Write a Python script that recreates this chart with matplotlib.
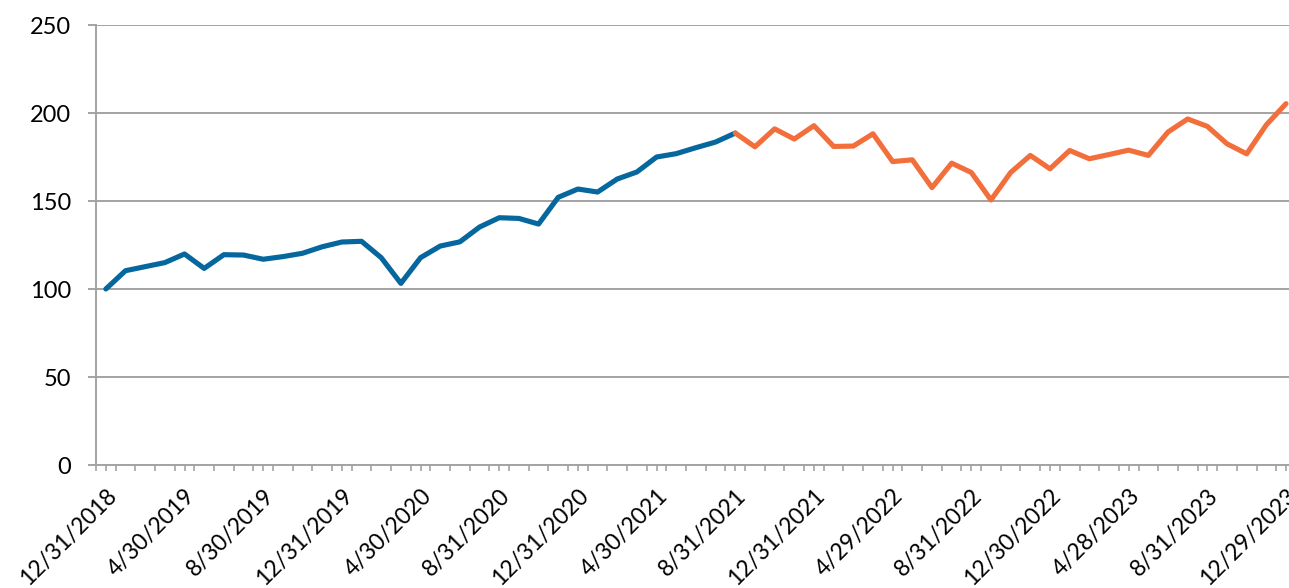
#!/usr/bin/env python3
import matplotlib
matplotlib.use("Agg")
import matplotlib.pyplot as plt
import numpy as np

# month-end index values, 12/31/2018 .. 12/29/2023 (61 points)
history = [
    100.0, 110.4, 112.7, 115.0, 119.9, 111.7, 119.5, 119.3, 116.9, 118.4,
    120.3, 124.0, 126.7, 127.1, 117.8, 103.2, 117.8, 124.4, 126.8, 135.2,
    140.5, 140.1, 136.9, 152.1, 156.8, 155.1, 162.5, 166.5, 175.0, 176.9,
    180.3, 183.5, 188.6,
]
forecast = [
    188.6, 180.8, 191.0, 185.2, 192.8, 181.0, 181.2, 188.2, 172.4, 173.4,
    157.6, 171.5, 166.2, 150.6, 166.2, 175.9, 168.3, 178.7, 174.0, 176.4,
    178.9, 175.9, 189.2, 196.6, 192.4, 182.5, 176.8, 193.3, 205.3,
]
tick_labels = [
    "12/31/2018", "4/30/2019", "8/30/2019", "12/31/2019", "4/30/2020",
    "8/31/2020", "12/31/2020", "4/30/2021", "8/31/2021", "12/31/2021",
    "4/29/2022", "8/31/2022", "12/30/2022", "4/28/2023", "8/31/2023",
    "12/29/2023",
]
label_step = 4
y_ticks = [0, 50, 100, 150, 200, 250]

BLUE = "#05679d"
ORANGE = "#f26f3c"
GRID = "#a3a3a3"
FONT = ["Lato", "DejaVu Sans"]

n_points = len(history) + len(forecast) - 1
x_hist = np.arange(len(history))
x_fore = np.arange(len(history) - 1, n_points)

fig = plt.figure(figsize=(12.89, 5.88), dpi=100)
ax = fig.add_axes([96 / 1289, 1 - 465 / 588, (61 * 19.67) / 1289, 440 / 588])

ax.plot(x_hist, history, color=BLUE, lw=3.7, solid_joinstyle="round",
        solid_capstyle="round", zorder=3)
ax.plot(x_fore, forecast, color=ORANGE, lw=3.7, solid_joinstyle="round",
        solid_capstyle="round", zorder=3)

ax.set_xlim(-0.5, n_points - 0.5)
ax.set_ylim(0, 250)
ax.set_yticks(y_ticks)
ax.yaxis.grid(True, color=GRID, lw=1.4)
ax.set_axisbelow(True)

for side in ("top", "right"):
    ax.spines[side].set_visible(False)
for side in ("left", "bottom"):
    ax.spines[side].set_color(GRID)
    ax.spines[side].set_linewidth(1.4)

# labels every 4 months at the category centres, boundary ticks in between
ax.set_xticks(np.arange(0, n_points, label_step))
ax.set_xticklabels(tick_labels, rotation=45, ha="right", va="top",
                   rotation_mode="anchor", fontsize=16.5, family=FONT)
ax.set_xticks(np.arange(-0.5, n_points, 1.0), minor=True)
ax.tick_params(axis="x", which="major", length=4.5, width=1.2, color=GRID, pad=10)
ax.tick_params(axis="x", which="minor", length=4.5, width=1.2, color=GRID)
ax.tick_params(axis="y", length=6, width=1.4, color=GRID, pad=12)
for lbl in ax.get_yticklabels():
    lbl.set_fontsize(17)
    lbl.set_family(FONT)

fig.savefig("out.png", dpi=100, facecolor="white")
plt.close(fig)
